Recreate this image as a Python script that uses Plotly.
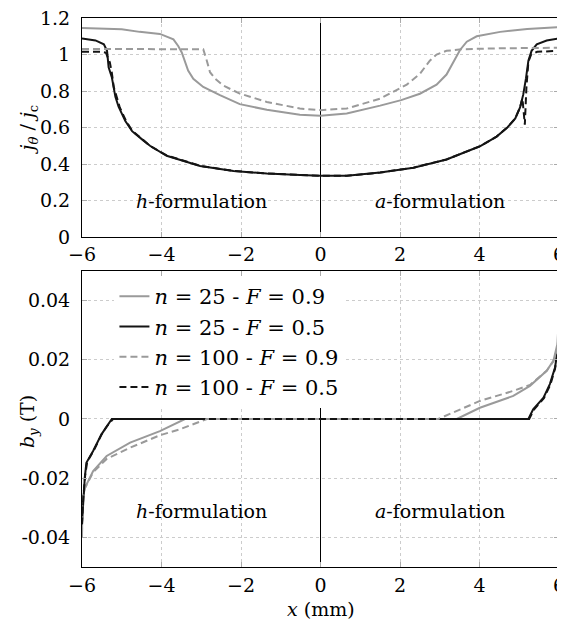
import plotly.graph_objects as go

# ---------- top panel: j_theta / j_c ----------
top_x_n25_F09 = [-6, -5, -4.55, -4.04, -3.70, -3.58, -3.49, -3.41, -3.33, -3.20, -2.95, -2.53, -2.03, -1.35, -0.52, 0,
                 0.66, 1.5, 2.03, 2.50, 2.92, 3.17, 3.34, 3.51, 3.68, 3.93, 4.52, 5.2, 6]
top_y_n25_F09 = [1.145, 1.138, 1.124, 1.113, 1.083, 1.047, 1.011, 0.966, 0.912, 0.867, 0.822, 0.777, 0.728, 0.697, 0.67, 0.665,
                 0.677, 0.72, 0.75, 0.785, 0.835, 0.89, 0.955, 1.025, 1.07, 1.10, 1.124, 1.14, 1.15]

top_x_n25_F05 = [-6, -5.66, -5.45, -5.37, -5.33, -5.25, -5.16, -5.08, -4.91, -4.74, -4.49, -4.29, -3.87, -3.03, -2.19,
                 -1.35, -0.52, 0, 0.66, 1.5, 2.34, 3.17, 4.01, 4.43, 4.7, 4.9, 5.02, 5.1, 5.17, 5.23, 5.31, 5.44, 5.69, 5.97, 6]
top_y_n25_F05 = [1.088, 1.077, 1.056, 1.02, 0.93, 0.876, 0.768, 0.714, 0.635, 0.58, 0.535, 0.5, 0.445, 0.389, 0.362,
                 0.348, 0.34, 0.335, 0.335, 0.353, 0.38, 0.425, 0.497, 0.55, 0.6, 0.65, 0.71, 0.78, 0.87, 0.966, 1.02,
                 1.056, 1.077, 1.088, 1.088]

top_x_n100_F09 = [-6, -4, -2.95, -2.86, -2.78, -2.65, -2.45, -2.03, -1.35, -0.52, 0,
                  0.66, 1.5, 2.17, 2.5, 2.75, 2.92, 3.17, 3.59, 4.52, 6]
top_y_n100_F09 = [1.03, 1.03, 1.029, 0.966, 0.903, 0.867, 0.83, 0.786, 0.74, 0.704, 0.695,
                  0.704, 0.758, 0.835, 0.894, 0.966, 1.0, 1.02, 1.029, 1.034, 1.037]

top_x_n100_F05 = [-6, -5.5, -5.4, -5.3, -5.25, -5.2, -5.13, -5.05, -4.9, -4.74, -4.49, -4.29, -3.87, -3.03,
                  -2.19, -1.35, -0.52, 0, 0.66, 1.5, 2.34, 3.17, 4.01, 4.43, 4.7, 4.9, 5.02, 5.08, 5.14, 5.18, 5.23,
                  5.3, 5.45, 6]
top_y_n100_F05 = [1.015, 1.015, 1.01, 0.957, 0.9, 0.82, 0.77, 0.71, 0.64, 0.582, 0.537, 0.5, 0.447, 0.39,
                  0.362, 0.348, 0.34, 0.335, 0.335, 0.353, 0.38, 0.425, 0.497, 0.55, 0.6, 0.65, 0.71, 0.76, 0.615, 0.82, 0.96,
                  1.0, 1.015, 1.02]

# ---------- bottom panel: b_y (T) ----------
bot_x_n25_F09 = [-6, -5.99, -5.93, -5.84, -5.72, -5.38, -4.79, -4.04, -3.41, 3.43, 4.01, 4.85, 5.27, 5.69, 5.86, 5.96, 5.99]
bot_y_n25_F09 = [-0.040, -0.028, -0.0233, -0.021, -0.0176, -0.0125, -0.008, -0.0041, 0, 0, 0.0038, 0.0078,
                 0.0112, 0.0163, 0.0197, 0.0253, 0.0327]

bot_x_n25_F05 = [-6, -5.97, -5.93, -5.89, -5.72, -5.51, -5.38, -5.25, 5.23, 5.35, 5.61, 5.77, 5.9, 5.96, 5.99]
bot_y_n25_F05 = [-0.035, -0.0278, -0.0199, -0.0148, -0.0108, -0.0052, -0.0024, 0, 0, 0.0033, 0.0072, 0.0118,
                 0.0174, 0.0219, 0.0253]

bot_x_n100_F09 = [-6, -5.99, -5.93, -5.84, -5.72, -5.38, -4.79, -4.04, -3.54, -2.86, 2.96, 4.01, 4.85, 5.27, 5.69,
                  5.86, 5.96, 5.99]
bot_y_n100_F09 = [-0.039, -0.029, -0.0235, -0.021, -0.018, -0.0135, -0.0097, -0.0055, -0.0035, 0, 0, 0.0061, 0.0095,
                  0.0115, 0.0163, 0.0195, 0.024, 0.028]

bot_x_n100_F05 = [-6, -5.97, -5.92, -5.87, -5.7, -5.5, -5.36, -5.22, 5.25, 5.37, 5.62, 5.78, 5.9, 5.96, 5.99]
bot_y_n100_F05 = [-0.0356, -0.027, -0.019, -0.0145, -0.0105, -0.005, -0.0022, 0, 0, 0.0032, 0.007, 0.0115,
                  0.017, 0.021, 0.024]

x_tickvals = [-6, -4, -2, 0, 2, 4, 6]
x_ticktext = ["\u22126", "\u22124", "\u22122", "0", "2", "4", "6"]
top_tickvals = [0, 0.2, 0.4, 0.6, 0.8, 1, 1.2]
top_ticktext = ["0", "0.2", "0.4", "0.6", "0.8", "1", "1.2"]
bot_tickvals = [-0.04, -0.02, 0, 0.02, 0.04]
bot_ticktext = ["-0.04", "-0.02", "0", "0.02", "0.04"]

names = ["<i>n</i> = 25 - <i>F</i> = 0.9", "<i>n</i> = 25 - <i>F</i> = 0.5",
         "<i>n</i> = 100 - <i>F</i> = 0.9", "<i>n</i> = 100 - <i>F</i> = 0.5"]

GRAY = "#9a9a9a"
BLACK = "#141414"
DASH = "7px,4px"
FONT = "DejaVu Serif"
FS = 19

fig = go.Figure()

styles = [(GRAY, "solid"), (BLACK, "solid"), (GRAY, DASH), (BLACK, DASH)]
top_data = [(top_x_n25_F09, top_y_n25_F09), (top_x_n25_F05, top_y_n25_F05),
            (top_x_n100_F09, top_y_n100_F09), (top_x_n100_F05, top_y_n100_F05)]
bot_data = [(bot_x_n25_F09, bot_y_n25_F09), (bot_x_n25_F05, bot_y_n25_F05),
            (bot_x_n100_F09, bot_y_n100_F09), (bot_x_n100_F05, bot_y_n100_F05)]

for (xs, ys), (c, d), nm in zip(top_data, styles, names):
    fig.add_trace(go.Scatter(x=xs, y=ys, mode="lines", line=dict(color=c, width=2, dash=d),
                             name=nm, showlegend=False, xaxis="x", yaxis="y"))
for i, ((xs, ys), (c, d), nm) in enumerate(zip(bot_data, styles, names)):
    fig.add_trace(go.Scatter(x=xs, y=ys, mode="lines", line=dict(color=c, width=2, dash=d),
                             name=nm, showlegend=True, legendgroup=f"g{i}", xaxis="x2", yaxis="y2"))

axis_common = dict(showline=True, linecolor="black", linewidth=1, mirror="ticks", automargin=False,
                   ticks="inside", ticklen=5, tickcolor="#aaaaaa", ticklabeloverflow="allow",
                   showgrid=True, gridcolor="#cccccc", griddash="dot", gridwidth=1,
                   tickfont=dict(family=FONT, size=FS, color="black"))

# the page body adds an 8 px offset; the figure is sized to fit the 565x624 window
fig.update_layout(
    width=557, height=616,
    margin=dict(l=74, r=6, t=10, b=57),
    plot_bgcolor="white", paper_bgcolor="white",
    font=dict(family=FONT, size=FS, color="black"),
    xaxis=dict(domain=[0, 1], anchor="y", range=[-6, 6], tickvals=x_tickvals, ticktext=x_ticktext,
               zeroline=True, zerolinecolor="black", zerolinewidth=1, ticklabelstandoff=0, **axis_common),
    yaxis=dict(domain=[0.6011, 1], anchor="x", range=[0, 1.2], tickvals=top_tickvals, ticktext=top_ticktext,
               zeroline=False, ticklabelstandoff=7, **axis_common),
    xaxis2=dict(domain=[0, 1], anchor="y2", range=[-6, 6], tickvals=x_tickvals, ticktext=x_ticktext,
                zeroline=True, zerolinecolor="black", zerolinewidth=1, ticklabelstandoff=1, **axis_common),
    yaxis2=dict(domain=[0, 0.5392], anchor="x2", range=[-0.05, 0.05], tickvals=bot_tickvals, ticktext=bot_ticktext,
                zeroline=False, ticklabelstandoff=7, **axis_common),
    legend=dict(x=0.068, y=0.53, xanchor="left", yanchor="top", bgcolor="white", borderwidth=0,
                font=dict(family=FONT, size=21), tracegroupgap=0, traceorder="normal"),
    annotations=[
        dict(x=-3, y=0.2, xref="x", yref="y", text="<i>h</i>-formulation", showarrow=False,
             font=dict(family=FONT, size=FS)),
        dict(x=3, y=0.2, xref="x", yref="y", text="<i>a</i>-formulation", showarrow=False,
             font=dict(family=FONT, size=FS)),
        dict(x=-3, y=-0.031, xref="x2", yref="y2", text="<i>h</i>-formulation", showarrow=False,
             font=dict(family=FONT, size=FS)),
        dict(x=3, y=-0.031, xref="x2", yref="y2", text="<i>a</i>-formulation", showarrow=False,
             font=dict(family=FONT, size=FS)),
        dict(x=-0.1132, y=0.797, xref="paper", yref="paper", textangle=-90, showarrow=False,
             xanchor="center", yanchor="middle",
             text="<i>j</i><sub><i>θ</i></sub> / <i>j</i><sub>c</sub>", font=dict(family=FONT, size=FS)),
        dict(x=-0.1132, y=0.264, xref="paper", yref="paper", textangle=-90, showarrow=False,
             xanchor="center", yanchor="middle",
             text="<i>b</i><sub><i>y</i></sub> (T)", font=dict(family=FONT, size=FS)),
        dict(x=0.5, y=-0.076, xref="paper", yref="paper", showarrow=False,
             xanchor="center", yanchor="middle",
             text="<i>x</i> (mm)", font=dict(family=FONT, size=FS)),
    ],
)

fig.write_html("out.html")
